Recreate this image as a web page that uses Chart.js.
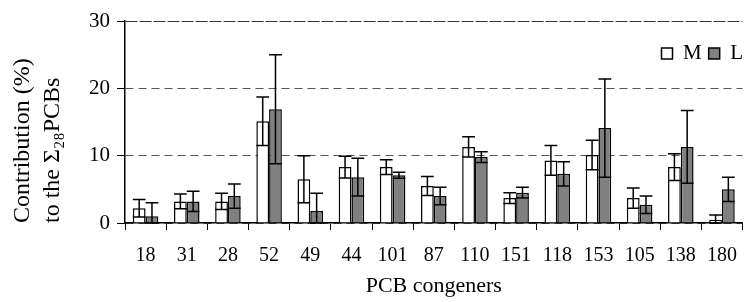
<!DOCTYPE html>
<html lang="en">
<head>
  <meta charset="UTF-8">
  <title>PCB congeners contribution</title>
  <script src="https://cdn.jsdelivr.net/npm/chart.js"></script>
  <style>
    body { margin: 0; padding: 0; background: white; }
    #chart { display: block; }
  </style>
</head>
<body>
  <canvas id="chart" width="751" height="302"></canvas>
  <script>
    // values (mean and SD, % of sum of 28 PCBs)
    const congeners = ['18', '31', '28', '52', '49', '44', '101', '87', '110', '151', '118', '153', '105', '138', '180'];
    const mMean = [2.2, 3.2, 3.2, 15.1, 6.5, 8.3, 8.3, 5.5, 11.3, 3.7, 9.3, 10.1, 3.7, 8.3, 0.5];
    const mSd   = [1.3, 1.1, 1.2, 3.6, 3.5, 1.6, 1.1, 1.4, 1.5, 0.8, 2.2, 2.2, 1.5, 2.0, 0.7];
    const lMean = [1.0, 3.2, 4.0, 16.9, 1.8, 6.8, 7.1, 4.0, 9.8, 4.5, 7.3, 14.1, 2.7, 11.3, 5.0];
    const lSd   = [2.0, 1.5, 1.8, 8.1, 2.6, 2.8, 0.45, 1.3, 0.8, 0.8, 1.8, 7.3, 1.3, 5.4, 1.8];
    const yTicks = [0, 10, 20, 30];

    const serif = "'Liberation Serif', serif";

    // draws mean +/- SD whiskers with caps as wide as the bar
    const errorBars = {
      id: 'errorBars',
      afterDatasetsDraw(chart) {
        const ctx = chart.ctx;
        const y = chart.scales.y;
        chart.data.datasets.forEach((ds, i) => {
          const meta = chart.getDatasetMeta(i);
          meta.data.forEach((bar, j) => {
            const v = ds.data[j];
            const e = ds.errors[j];
            const top = y.getPixelForValue(v + e);
            const bot = y.getPixelForValue(Math.max(v - e, 0));
            const half = bar.width / 2;
            ctx.save();
            ctx.strokeStyle = '#000';
            ctx.lineWidth = 1.5;
            ctx.beginPath();
            ctx.moveTo(bar.x, top);
            ctx.lineTo(bar.x, bot);
            ctx.moveTo(bar.x - half, top);
            ctx.lineTo(bar.x + half, top);
            ctx.moveTo(bar.x - half, bot);
            ctx.lineTo(bar.x + half, bot);
            ctx.stroke();
            ctx.restore();
          });
        });
      }
    };

    // legend keeps 21px at the top for layout, then is slid down into the plot
    const legendInside = {
      id: 'legendInside',
      afterLayout(chart) {
        const lg = chart.legend;
        lg.top = 36;
        lg.bottom = 69;
        lg.height = 33;
      }
    };

    new Chart(document.getElementById('chart'), {
      type: 'bar',
      data: {
        labels: congeners,
        datasets: [
          { label: 'M', data: mMean, errors: mSd, backgroundColor: '#ffffff', borderColor: '#000', borderWidth: 1.5 },
          { label: 'L', data: lMean, errors: lSd, backgroundColor: '#808080', borderColor: '#000', borderWidth: 1.5 }
        ]
      },
      options: {
        responsive: false,
        animation: false,
        devicePixelRatio: 1,
        layout: { padding: { top: 0, right: 1, bottom: 0, left: 0 } },
        datasets: { bar: { categoryPercentage: 0.62, barPercentage: 1 } },
        plugins: {
          tooltip: { enabled: false },
          legend: {
            position: 'top',
            align: 'end',
            maxHeight: 21,
            labels: {
              boxWidth: 11,
              boxHeight: 11,
              padding: 7,
              color: '#000',
              font: { family: serif, size: 21 }
            }
          }
        },
        scales: {
          x: {
            afterFit(scale) { scale.height = 79; },
            grid: { offset: true, drawOnChartArea: false, drawTicks: true, tickLength: 7, tickColor: '#000', tickWidth: 1 },
            border: { color: '#000', width: 1.5 },
            ticks: { color: '#000', padding: 14, font: { family: serif, size: 20 } },
            title: { display: true, text: 'PCB congeners', color: '#000', font: { family: serif, size: 22 }, padding: { top: 0, bottom: 3 } }
          },
          y: {
            min: 0,
            max: 30,
            afterFit(scale) { scale.width = 125; },
            afterBuildTicks(scale) { scale.ticks = yTicks.map(v => ({ value: v })); },
            grid: {
              color: ctx => ctx.tick && ctx.tick.value === 30 ? '#333' : '#555',
              lineWidth: 1,
              drawTicks: true,
              tickLength: 8,
              tickColor: '#000',
              tickWidth: 1
            },
            border: {
              color: '#000',
              width: 1.5,
              dash: ctx => ctx.tick && ctx.tick.value === 30 ? [12, 2] : [8, 5]
            },
            ticks: { color: '#000', padding: 7, font: { family: serif, size: 21 } },
            title: {
              display: true,
              align: 'start',
              text: ['Contribution (%)', 'to the Σ₂₈PCBs'],
              color: '#000',
              font: { family: serif, size: 24, lineHeight: 1.25 },
              padding: { top: 8, bottom: 0 }
            }
          }
        }
      },
      plugins: [errorBars, legendInside]
    });
  </script>
</body>
</html>
